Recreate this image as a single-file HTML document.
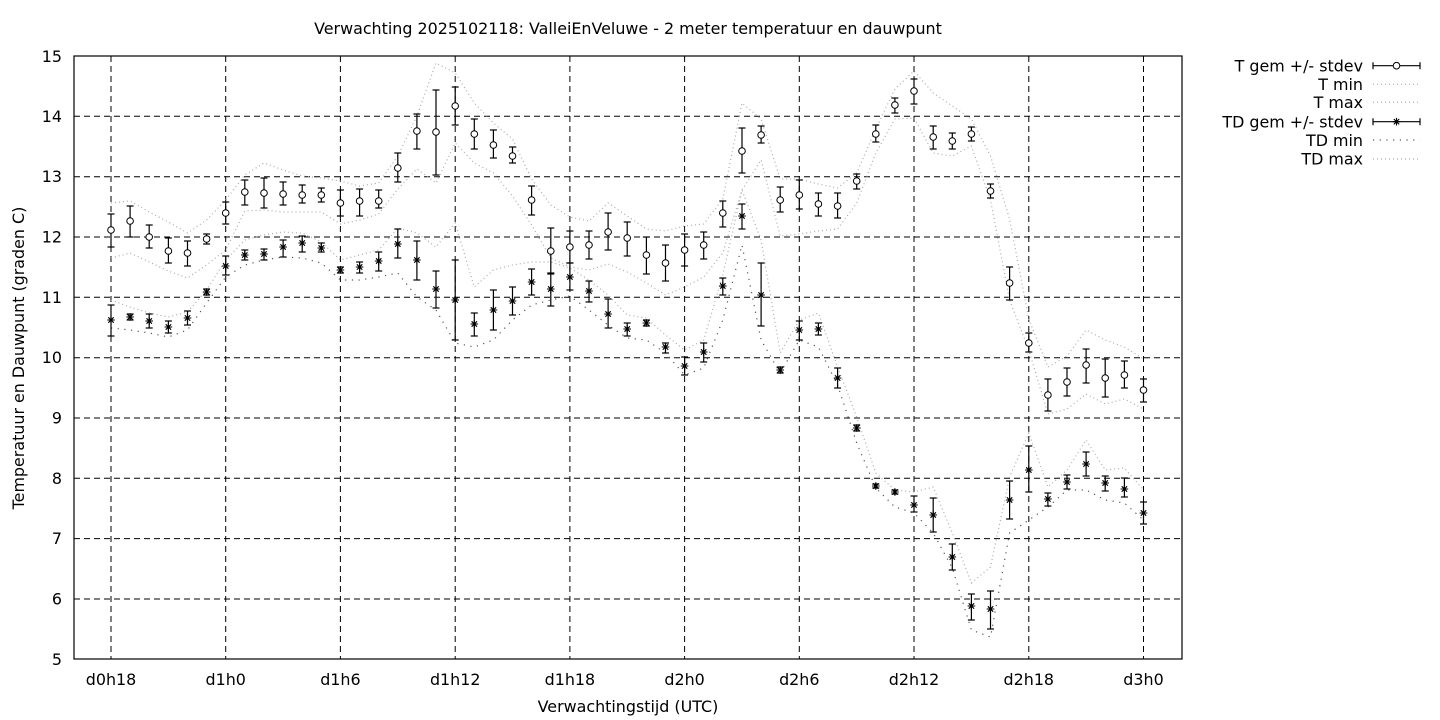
<!DOCTYPE html>
<html><head><meta charset="utf-8"><style>
html,body{margin:0;padding:0;background:#fff;}
svg{display:block;}
text{font-family:"DejaVu Sans","Liberation Sans",sans-serif;font-size:15.9px;fill:#000;}
</style></head><body>
<svg width="1440" height="720" viewBox="0 0 1440 720" xmlns="http://www.w3.org/2000/svg">
<defs>
<marker id="cap" markerUnits="userSpaceOnUse" markerWidth="1" markerHeight="1" refX="0" refY="0" overflow="visible"><path d="M-3.5 0H3.5" stroke="#000" stroke-width="1.2"/></marker>
<marker id="circ" markerUnits="userSpaceOnUse" markerWidth="1" markerHeight="1" refX="0" refY="0" overflow="visible"><circle r="3.3" fill="#fff" stroke="#000" stroke-width="1"/></marker>
<marker id="star" markerUnits="userSpaceOnUse" markerWidth="1" markerHeight="1" refX="0" refY="0" overflow="visible"><path d="M-3.8 0H3.8M0 -3.8V3.8M-2.7 -2.7L2.7 2.7M-2.7 2.7L2.7 -2.7" stroke="#000" stroke-width="1.1" fill="none"/></marker>
</defs>
<rect width="1440" height="720" fill="#fff"/>
<text x="628" y="34" text-anchor="middle">Verwachting 2025102118: ValleiEnVeluwe - 2 meter temperatuur en dauwpunt</text>
<g stroke="#000" stroke-width="1" stroke-dasharray="6 4" fill="none">
<path d="M74 116.3H1182M74 176.7H1182M74 237H1182M74 297.3H1182M74 357.7H1182M74 418H1182M74 478.3H1182M74 538.6H1182M74 599H1182"/>
<path d="M111 56V659M225.7 56V659M340.4 56V659M455.2 56V659M569.9 56V659M684.6 56V659M799.3 56V659M914 56V659M1028.8 56V659M1143.5 56V659"/>
</g>
<rect x="74" y="56" width="1108" height="603" fill="none" stroke="#000" stroke-width="1.2"/>
<g text-anchor="end">
<text x="62" y="62">15</text>
<text x="62" y="122">14</text>
<text x="62" y="182">13</text>
<text x="62" y="242.5">12</text>
<text x="62" y="303">11</text>
<text x="62" y="363">10</text>
<text x="62" y="423.5">9</text>
<text x="62" y="484">8</text>
<text x="62" y="544">7</text>
<text x="62" y="604.5">6</text>
<text x="62" y="665">5</text>
</g>
<g text-anchor="middle">
<text x="111" y="685">d0h18</text>
<text x="225.7" y="685">d1h0</text>
<text x="340.4" y="685">d1h6</text>
<text x="455.2" y="685">d1h12</text>
<text x="569.9" y="685">d1h18</text>
<text x="684.6" y="685">d2h0</text>
<text x="799.3" y="685">d2h6</text>
<text x="914" y="685">d2h12</text>
<text x="1028.8" y="685">d2h18</text>
<text x="1143.5" y="685">d3h0</text>
<text x="628" y="712">Verwachtingstijd (UTC)</text>
<text transform="translate(24 358) rotate(-90)">Temperatuur en Dauwpunt (graden C)</text>
</g>
<g fill="none" stroke-width="1.2">
<polyline stroke="#aaa" stroke-dasharray="1 3" points="111,203 130.1,201 149.2,212 168.4,222 187.5,233 206.6,220 225.7,200 244.8,175 264,163 283.1,170 302.2,176 321.3,178 340.4,181 359.6,186 378.7,183 397.8,156 416.9,116 436,63 455.2,73 474.3,103 493.4,123 512.5,139 531.6,179 550.8,205 569.9,217 589,221 608.1,203 627.2,216 646.4,229 665.5,231 684.6,226 703.7,224 722.8,199 742,103 761.1,119 780.2,179 799.3,179 818.4,184 837.6,188 856.7,173 875.8,129 894.9,89 914,71 933.2,93 952.3,106 971.4,119 990.5,156 1009.6,219 1028.8,319 1047.9,367 1067,356 1086.1,330 1105.2,340 1124.4,347 1143.5,359"/>
<polyline stroke="#aaa" stroke-dasharray="1 3" points="111,258 130.1,253 149.2,262 168.4,271 187.5,278 206.6,265 225.7,250 244.8,211 264,210 283.1,212 302.2,212 321.3,212 340.4,224 359.6,220 378.7,214 397.8,189 416.9,169 436,183 455.2,143 474.3,163 493.4,173 512.5,196 531.6,225 550.8,258 569.9,267 589,270 608.1,264 627.2,272 646.4,283 665.5,295 684.6,287 703.7,277 722.8,253 742,190 761.1,160 780.2,236 799.3,234 818.4,231 837.6,229 856.7,203 875.8,153 894.9,119 914,118 933.2,153 952.3,156 971.4,146 990.5,200 1009.6,300 1028.8,350 1047.9,414 1067,409 1086.1,394 1105.2,404 1124.4,399 1143.5,409"/>
<polyline stroke="#aaa" stroke-dasharray="1 3" points="111,300 130.1,307 149.2,313 168.4,317 187.5,312 206.6,290 225.7,260 244.8,240 264,235 283.1,232 302.2,233 321.3,242 340.4,260 359.6,255 378.7,250 397.8,228 416.9,233 436,247 455.2,223 474.3,287 493.4,270 512.5,265 531.6,262 550.8,262 569.9,268 589,280 608.1,295 627.2,315 646.4,318 665.5,335 684.6,350 703.7,340 722.8,275 742,190 761.1,240 780.2,353 799.3,320 818.4,313 837.6,367 856.7,417 875.8,473 894.9,490 914,492 933.2,487 952.3,533 971.4,583 990.5,567 1009.6,477 1028.8,433 1047.9,487 1067,470 1086.1,440 1105.2,470 1124.4,468 1143.5,490"/>
<polyline stroke="#555" stroke-dasharray="1.2 5.5" points="111,328 130.1,330 149.2,333 168.4,337 187.5,330 206.6,303 225.7,277 244.8,265 264,260 283.1,257 302.2,258 321.3,263 340.4,280 359.6,280 378.7,277 397.8,273 416.9,297 436,310 455.2,343 474.3,347 493.4,340 512.5,320 531.6,305 550.8,300 569.9,296 589,310 608.1,325 627.2,338 646.4,340 665.5,353 684.6,375 703.7,368 722.8,320 742,245 761.1,340 780.2,373 799.3,340 818.4,347 837.6,385 856.7,443 875.8,488 894.9,507 914,513 933.2,533 952.3,568 971.4,630 990.5,637 1009.6,533 1028.8,520 1047.9,507 1067,490 1086.1,490 1105.2,500 1124.4,503 1143.5,520"/>
</g>
<g fill="none" stroke="#000" stroke-width="1.2" marker-start="url(#cap)" marker-mid="url(#cap)" marker-end="url(#cap)">
<path d="M111 214V247M130.1 206V237M149.2 225V248M168.4 238V263M187.5 241V266M206.6 234V244M225.7 202V224M244.8 180V205M264 178V208M283.1 182V205M302.2 185V203M321.3 188V202M340.4 190V216M359.6 189V216M378.7 190V208M397.8 153V182M416.9 114V149M436 90V175M455.2 87V125M474.3 119V149M493.4 130V158M512.5 147V163M531.6 186V215M550.8 228V274M569.9 231V263M589 231V259M608.1 213V250M627.2 222V256M646.4 237V274M665.5 245V281M684.6 234V266M703.7 232V259M722.8 201V227M742 128V173M761.1 126V143M780.2 187V212M799.3 180V209M818.4 193V216M837.6 193V218M856.7 174V189M875.8 125V142M894.9 98V113M914 79V104M933.2 126V149M952.3 133V149M971.4 127V141M990.5 184V198M1009.6 267V300M1028.8 333V352M1047.9 379V411M1067 368V396M1086.1 349V383M1105.2 359V397M1124.4 361V388M1143.5 379V402"/>
<path d="M111 305V336M130.1 314V320M149.2 314V328M168.4 321V333M187.5 311V325M206.6 289V295M225.7 256V275M244.8 250V260M264 249V260M283.1 240V257M302.2 236V252M321.3 243V252M340.4 267V273M359.6 262V273M378.7 252V271M397.8 229V258M416.9 241V280M436 271V308M455.2 260V340M474.3 313V336M493.4 290V330M512.5 287V315M531.6 269V295M550.8 273V306M569.9 263V290M589 281V302M608.1 299V328M627.2 323V336M646.4 320V326M665.5 343V353M684.6 357V375M703.7 343V362M722.8 278V295M742 204V229M761.1 263V326M780.2 367V373M799.3 321V340M818.4 323V335M837.6 368V388M856.7 425V431M875.8 484V488M894.9 490V494M914 496V512M933.2 498V532M952.3 544V570M971.4 594V620M990.5 591V629M1009.6 481V519M1028.8 446V492M1047.9 493V506M1067 475V489M1086.1 452V476M1105.2 476V491M1124.4 478V497M1143.5 502V524"/>
</g>
<polyline fill="none" stroke="none" marker-start="url(#circ)" marker-mid="url(#circ)" marker-end="url(#circ)" points="111,230 130.1,221 149.2,237 168.4,251 187.5,253 206.6,239 225.7,213 244.8,192 264,193 283.1,194 302.2,195 321.3,195 340.4,203 359.6,201 378.7,201 397.8,168 416.9,131 436,132 455.2,106 474.3,134 493.4,145 512.5,156 531.6,200 550.8,251 569.9,247 589,245 608.1,232 627.2,238 646.4,255 665.5,263 684.6,250 703.7,245 722.8,213 742,151 761.1,135 780.2,200 799.3,195 818.4,204 837.6,206 856.7,181 875.8,134 894.9,105 914,91 933.2,137 952.3,141 971.4,134 990.5,191 1009.6,283 1028.8,343 1047.9,395 1067,382 1086.1,365 1105.2,378 1124.4,375 1143.5,390"/>
<polyline fill="none" stroke="none" marker-start="url(#star)" marker-mid="url(#star)" marker-end="url(#star)" points="111,320 130.1,317 149.2,321 168.4,327 187.5,318 206.6,292 225.7,266 244.8,255 264,254 283.1,247 302.2,243 321.3,248 340.4,270 359.6,267 378.7,261 397.8,244 416.9,260 436,289 455.2,300 474.3,324 493.4,310 512.5,301 531.6,282 550.8,289 569.9,277 589,291 608.1,314 627.2,329 646.4,323 665.5,347 684.6,366 703.7,352 722.8,286 742,216 761.1,295 780.2,370 799.3,330 818.4,329 837.6,378 856.7,428 875.8,486 894.9,492 914,505 933.2,515 952.3,557 971.4,606 990.5,609 1009.6,500 1028.8,470 1047.9,499 1067,482 1086.1,464 1105.2,483 1124.4,489 1143.5,513"/>
<g text-anchor="end">
<text x="1363" y="71.5">T gem +/- stdev</text>
<text x="1363" y="90">T min</text>
<text x="1363" y="108">T max</text>
<text x="1363" y="127.5">TD gem +/- stdev</text>
<text x="1363" y="146">TD min</text>
<text x="1363" y="164.5">TD max</text>
</g>
<path fill="none" stroke="#000" stroke-width="1.2" d="M1373 65.7H1420M1373 62.2V69.2M1420 62.2V69.2M1373 121.7H1420M1373 118.2V125.2M1420 118.2V125.2"/>
<circle cx="1396.5" cy="65.7" r="3.3" fill="#fff" stroke="#000" stroke-width="1"/>
<path d="M1392.7 121.7H1400.3M1396.5 117.9V125.5M1393.8 119L1399.2 124.4M1393.8 124.4L1399.2 119" stroke="#000" stroke-width="1.1" fill="none"/>
<g fill="none" stroke-width="1.2">
<path stroke="#aaa" stroke-dasharray="1 3" d="M1373 84.3H1420M1373 102.3H1420M1373 159H1420"/>
<path stroke="#555" stroke-dasharray="1.2 5.5" d="M1373 140H1420"/>
</g>
</svg>
</body></html>
